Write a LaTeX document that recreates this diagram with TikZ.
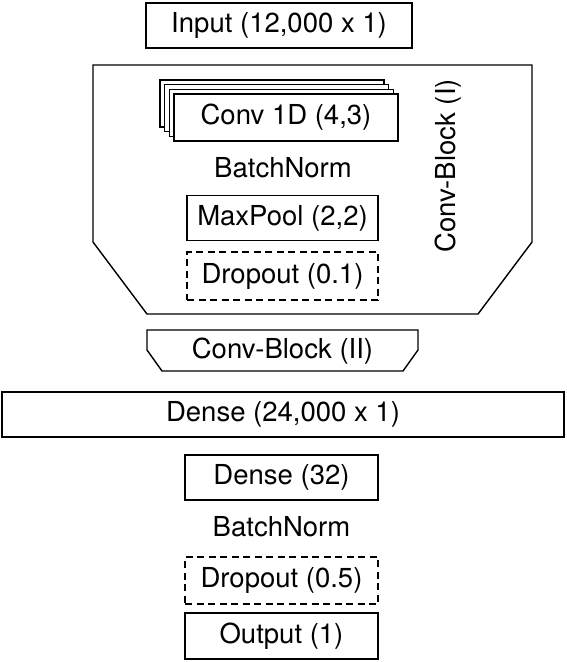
\documentclass[tikz,border=0pt]{standalone}
\usepackage{fontspec}
\setmainfont{TeX Gyre Heros}
\usetikzlibrary{positioning}

\begin{document}
\begin{tikzpicture}[x=1pt,y=-1pt,
		layer/.style={draw,line width=1.4pt,fill=white,minimum height=45pt,inner sep=0pt,font=\fontsize{27.5}{30}\selectfont},
		droplayer/.style={layer,dash pattern=on 7pt off 4.5pt},
		label/.style={inner sep=0pt,font=\fontsize{27.5}{30}\selectfont},
		blockline/.style={line width=1.4pt}]
		\useasboundingbox (0,0) rectangle (566,662);
		\node[layer,minimum width=266pt] (input) at (279,25.5) {Input (12,000 x 1)};
		\draw[blockline] (93,65) -- (532,65) -- (532,242) -- (478,314) -- (147,314) -- (93,242) -- cycle;
		\foreach \i in {3,2,1}
			\draw[blockline,fill=white] (174-4.7*\i,94-4.7*\i) rectangle ++(224,47);
		\node[layer,minimum width=224pt,minimum height=47pt] (conv) at (286,117.5) {Conv 1D (4,3)};
		\node[label] (norma) at (283,168) {BatchNorm};
		\node[layer,minimum width=191pt] (pool) at (282.5,218) {MaxPool (2,2)};
		\node[droplayer,minimum width=191pt,minimum height=48pt] (dropa) at (282.5,276) {Dropout (0.1)};
		\node[label,rotate=90] (blocka) at (448,166) {Conv-Block (I)};
		\draw[blockline] (147,330) -- (418,330) -- (418,350) -- (403,371) -- (162,371) -- (147,350) -- cycle;
		\node[label] (blockb) at (282.5,351) {Conv-Block (II)};
		\node[layer,minimum width=562pt] (densea) at (283,414.5) {Dense (24,000 x 1)};
		\node[layer,minimum width=193pt] (denseb) at (281.5,477.5) {Dense (32)};
		\node[label] (normb) at (281.5,527) {BatchNorm};
		\node[droplayer,minimum width=193pt,minimum height=47pt] (dropb) at (281.5,580.5) {Dropout (0.5)};
		\node[layer,minimum width=193pt,minimum height=46pt] (output) at (281.5,636) {Output (1)};
\end{tikzpicture}
\end{document}
